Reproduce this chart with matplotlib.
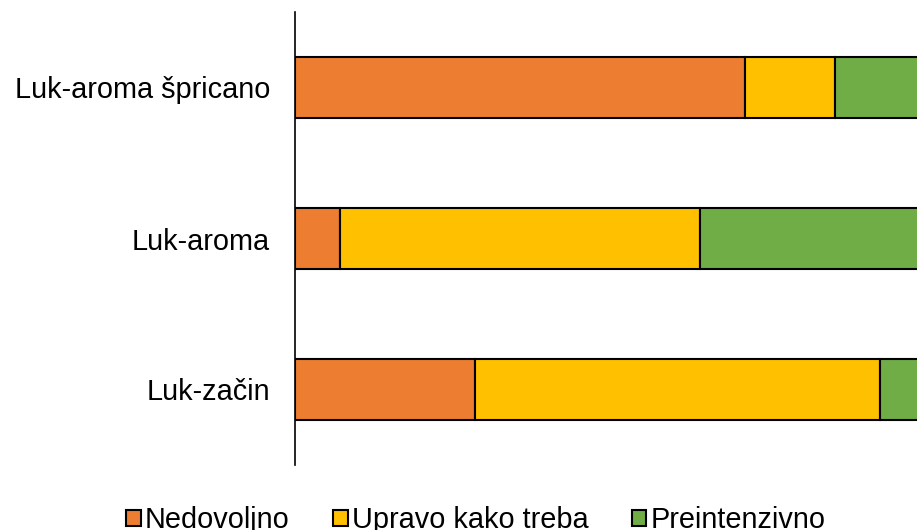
import matplotlib.pyplot as plt
import numpy as np

plt.rcParams['font.family'] = ['Liberation Sans', 'DejaVu Sans']

# podaci (udio odgovora, %)
kategorije = ['Luk-začin', 'Luk-aroma', 'Luk-aroma špricano']
nedovoljno = [20, 5, 50]
upravo = [45, 40, 10]
preintenzivno = [35, 55, 40]

boje = ['#ED7D31', '#FFC000', '#70AD47']
nazivi = ['Nedovoljno', 'Upravo kako treba', 'Preintenzivno']

fig = plt.figure(figsize=(9.17, 5.30), dpi=100)
# os ide dalje od desnog ruba slike (kao na originalu, odrezano)
ax = fig.add_axes([295 / 917, 65 / 530, 900 / 917, 453 / 530])

y = np.arange(len(kategorije))
lijevo = np.zeros(len(kategorije))
for vrijednosti, boja, naziv in zip([nedovoljno, upravo, preintenzivno], boje, nazivi):
    ax.barh(y, vrijednosti, left=lijevo, height=0.4, color=boja,
            edgecolor='black', linewidth=1.5, label=naziv)
    lijevo += np.array(vrijednosti)

ax.set_xlim(0, 100)
ax.set_ylim(-0.5, 2.5)
ax.set_yticks(y)
ax.set_yticklabels(kategorije, fontsize=20.8)
ax.tick_params(axis='y', length=0, pad=18)
ax.set_xticks([])
for s in ['top', 'right', 'bottom']:
    ax.spines[s].set_visible(False)
ax.spines['left'].set_linewidth(1.2)

fig.legend(loc='center', bbox_to_anchor=(476 / 917, 1 - 520 / 530), ncol=3,
           frameon=False, fontsize=20.8, handlelength=0.5, handleheight=0.5,
           handletextpad=0.15, columnspacing=1.5)

fig.savefig('out.png', dpi=100)
